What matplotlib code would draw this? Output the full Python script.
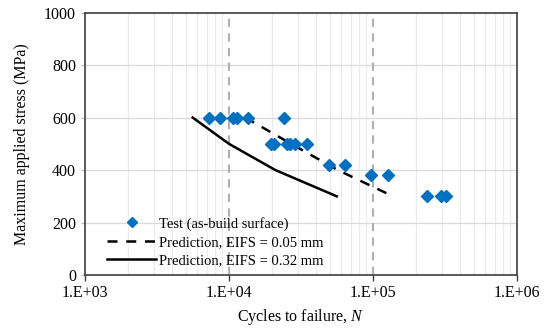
import numpy as np
import matplotlib.pyplot as plt
from matplotlib.ticker import FixedLocator, NullFormatter

plt.rcParams['font.family'] = ['Liberation Serif', 'DejaVu Serif']
plt.rcParams['mathtext.fontset'] = 'custom'
plt.rcParams['mathtext.it'] = 'Liberation Serif:italic'
plt.rcParams['mathtext.rm'] = 'Liberation Serif'

# test data
test_cycles = [7310, 8710, 10740, 11430, 13520, 24270,
               19630, 20700, 25230, 26600, 28900, 34760,
               49100, 63400, 97300, 126200,
               238000, 298000, 320000]
test_stress = [600, 600, 600, 600, 600, 600,
               500, 500, 500, 500, 500, 500,
               420, 420, 380, 380,
               300, 300, 300]

# predictions
pred005_cycles = [13000, 27000, 57000, 125000]
pred005_stress = [600, 500, 400, 311]
pred032_cycles = [5600, 10000, 21000, 56000]
pred032_stress = [600, 500, 400, 300]

xticks = [1e3, 1e4, 1e5, 1e6]
xtick_labels = ['1.E+03', '1.E+04', '1.E+05', '1.E+06']
yticks = [0, 200, 400, 600, 800, 1000]

fig = plt.figure(figsize=(5.5, 3.33), dpi=100)
ax = fig.add_axes([85 / 550, 1 - 275 / 333, (517 - 85) / 550, (275 - 12.7) / 333])

ax.set_xscale('log')
ax.set_xlim(1e3, 1e6)
ax.set_ylim(0, 1000)

# grid
minor = [m * 10 ** e for e in range(3, 6) for m in range(2, 10)]
for xv in minor:
    ax.axvline(xv, color='#ececec', lw=0.9, zorder=0)
for yv in yticks[1:-1]:
    ax.axhline(yv, color='#d9d9d9', lw=0.9, zorder=0)
for xv in [1e4, 1e5]:
    ax.axvline(xv, color='#b0b0b0', lw=1.5, ls=(0, (4, 3)), zorder=0.5)

ax.plot(test_cycles, test_stress, ls='none', marker='D', ms=6.5, color='#0070C0',
        label='Test (as-build surface)', zorder=3)
ax.plot(pred005_cycles, pred005_stress, color='black', lw=1.8, ls=(0, (4, 3.5)),
        label='Prediction, EIFS = 0.05 mm', zorder=2)
ax.plot(pred032_cycles, pred032_stress, color='black', lw=1.8,
        label='Prediction, EIFS = 0.32 mm', zorder=2)

ax.xaxis.set_major_locator(FixedLocator(xticks))
ax.set_xticklabels(xtick_labels)
ax.xaxis.set_minor_locator(FixedLocator(minor))
ax.xaxis.set_minor_formatter(NullFormatter())
ax.tick_params(axis='x', which='minor', length=0)
ax.set_yticks(yticks)
ax.tick_params(axis='both', which='major', labelsize=11.5, length=4, color='#404040', width=1)
ax.tick_params(axis='y', length=3, color='#bfbfbf')

for s in ax.spines.values():
    s.set_color('#404040')
    s.set_linewidth(1.2)

ax.set_xlabel('Cycles to failure, $\\mathit{N}$', fontsize=11.5)
ax.set_ylabel('Maximum applied stress (MPa)', fontsize=11.5, labelpad=10)

ax.legend(loc='lower left', bbox_to_anchor=(0.025, -0.015), frameon=False, fontsize=10.5,
          handlelength=3.3, handletextpad=0.2, labelspacing=0.35, borderpad=0.3,
          markerscale=0.75)

fig.savefig('out.png', dpi=100)
